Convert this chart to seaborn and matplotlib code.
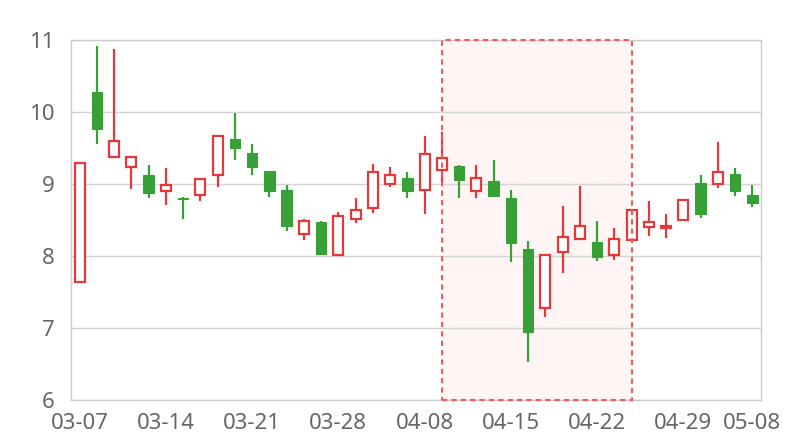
"""Candlestick chart of daily prices with a highlighted window."""

import numpy as np
import pandas as pd
import matplotlib
matplotlib.use("Agg")
import matplotlib.pyplot as plt
import seaborn as sns

# trading days (2019), labels are month-day
dates = [
    "03-07", "03-08", "03-11", "03-12", "03-13", "03-14", "03-15", "03-18",
    "03-19", "03-20", "03-21", "03-22", "03-25", "03-26", "03-27", "03-28",
    "03-29", "04-01", "04-02", "04-03", "04-08", "04-09", "04-10", "04-11",
    "04-12", "04-15", "04-16", "04-17", "04-18", "04-19", "04-22", "04-23",
    "04-24", "04-25", "04-26", "04-29", "04-30", "05-06", "05-07", "05-08",
]
opens = [
    7.64, 10.28, 9.37, 9.23, 9.12, 8.90, 8.81, 8.85, 9.13, 9.62,
    9.43, 9.18, 8.91, 8.31, 8.47, 8.02, 8.51, 8.67, 9.00, 9.09,
    8.92, 9.20, 9.25, 8.90, 9.04, 8.80, 8.10, 7.28, 8.05, 8.23,
    8.19, 8.02, 8.22, 8.40, 8.39, 8.50, 9.02, 9.00, 9.14, 8.85,
]
closes = [
    9.29, 9.76, 9.60, 9.37, 8.87, 8.99, 8.79, 9.07, 9.67, 9.50,
    9.23, 8.90, 8.41, 8.49, 8.03, 8.55, 8.64, 9.16, 9.13, 8.90,
    9.41, 9.36, 9.06, 9.09, 8.84, 8.18, 6.94, 8.02, 8.27, 8.41,
    7.99, 8.24, 8.64, 8.47, 8.42, 8.78, 8.58, 9.17, 8.90, 8.73,
]
highs = [
    9.29, 10.92, 10.87, 9.38, 9.27, 9.22, 8.82, 9.07, 9.67, 9.98,
    9.55, 9.18, 8.98, 8.51, 8.48, 8.61, 8.81, 9.28, 9.23, 9.17,
    9.67, 9.72, 9.26, 9.27, 9.33, 8.92, 8.21, 8.02, 8.70, 8.97,
    8.48, 8.39, 8.64, 8.77, 8.58, 8.78, 9.12, 9.58, 9.22, 8.98,
]
lows = [
    7.64, 9.56, 9.37, 8.93, 8.80, 8.71, 8.52, 8.77, 8.96, 9.34,
    9.13, 8.82, 8.35, 8.22, 8.01, 8.02, 8.46, 8.60, 8.96, 8.80,
    8.58, 9.01, 8.80, 8.80, 8.84, 7.91, 6.53, 7.15, 7.77, 8.23,
    7.93, 7.94, 8.22, 8.28, 8.25, 8.50, 8.53, 8.95, 8.84, 8.68,
]
tick_labels = ["03-07", "03-14", "03-21", "03-28", "04-08",
               "04-15", "04-22", "04-29", "05-08"]
highlight = ("04-09", "04-24")

UP = "#e5383b"
DOWN = "#37a137"

df = pd.DataFrame({"date": dates, "open": opens, "close": closes,
                   "high": highs, "low": lows})
df["x"] = np.arange(len(df))
df["up"] = df["close"] >= df["open"]

sns.set_theme(style="white")
plt.rcParams["font.family"] = ["Noto Sans", "DejaVu Sans"]

fig = plt.figure(figsize=(8, 4.4), dpi=100)
ax = fig.add_axes([71 / 800, 40 / 440, 690 / 800, 360 / 440])

# highlighted window
x0 = dates.index(highlight[0])
x1 = dates.index(highlight[1])
ax.axvspan(x0, x1, facecolor="#fff5f5", edgecolor="none", zorder=0)
ax.axvspan(x0, x1, facecolor="none", edgecolor="#f05a5a", lw=1.5,
           ls=(0, (2.5, 2)), zorder=4, clip_on=False)

ax.yaxis.grid(True, color="#d4d4d4", lw=1, zorder=1)

# wicks
colors = np.where(df["up"], UP, DOWN)
ax.vlines(df["x"], df["low"], df["high"], colors=colors, lw=1.6, zorder=2)

# bodies
body_lo = df[["open", "close"]].min(axis=1)
body_h = (df["close"] - df["open"]).abs().clip(lower=0.02)
up = df[df["up"]]
dn = df[~df["up"]]
ax.bar(dn["x"], body_h[~df["up"]], bottom=body_lo[~df["up"]], width=0.6,
       color=DOWN, edgecolor=DOWN, lw=0.8, zorder=3)
ax.bar(up["x"], body_h[df["up"]], bottom=body_lo[df["up"]], width=0.58,
       color="white", edgecolor=UP, lw=1.6, zorder=3)

ax.set_xlim(-0.5, len(df) - 0.5)
ax.set_ylim(6, 11)
ax.set_yticks(range(6, 12))
ax.set_xticks([dates.index(t) for t in tick_labels])
ax.set_xticklabels(tick_labels)
ax.tick_params(axis="both", length=0, labelsize=16, colors="#666666")
ax.tick_params(axis="y", pad=12)
ax.tick_params(axis="x", pad=9)
for s in ax.spines.values():
    s.set_color("#cccccc")
    s.set_linewidth(1)
    s.set_visible(True)

fig.savefig("out.png", dpi=100)
